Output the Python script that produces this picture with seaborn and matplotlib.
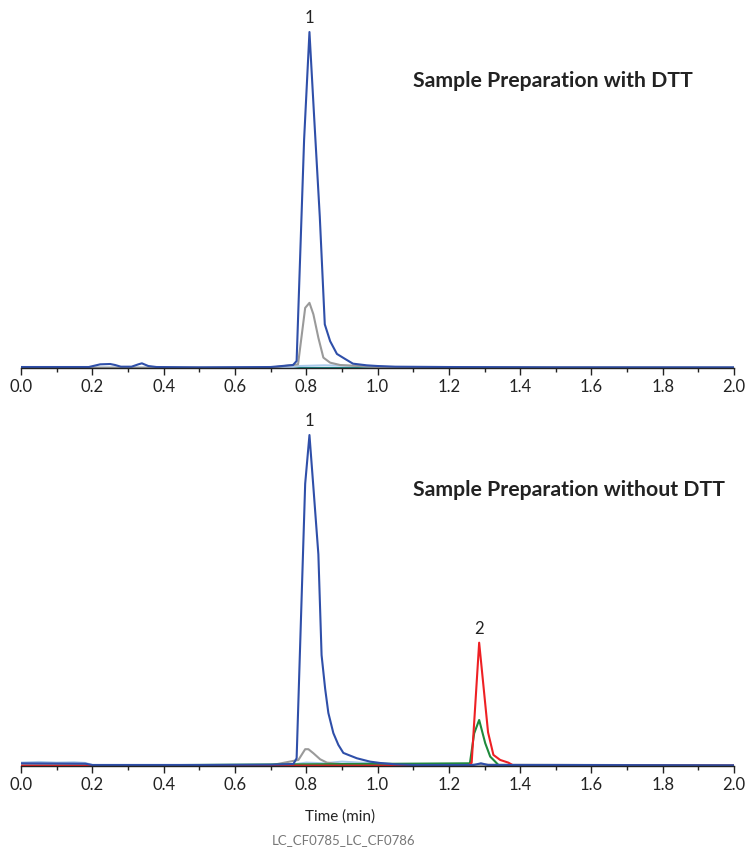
import pandas as pd
import matplotlib.pyplot as plt
import seaborn as sns
from matplotlib.ticker import MultipleLocator

# chromatogram traces (time in min, signal in % of peak 1 top panel)
top_blue_t = [0.0, 0.10, 0.19, 0.222, 0.25, 0.264, 0.28, 0.31, 0.329, 0.339, 0.357, 0.38, 0.5, 0.7,
              0.763, 0.773, 0.794, 0.809, 0.822, 0.838, 0.852, 0.867, 0.886, 0.909, 0.931, 0.970,
              1.0, 1.05, 1.2, 1.5, 2.0]
top_blue_v = [0.3, 0.3, 0.3, 1.1, 1.2, 0.9, 0.4, 0.4, 1.1, 1.4, 0.6, 0.3, 0.2, 0.3,
              0.9, 2.1, 68, 100, 75, 45, 13, 8, 4.2, 2.7, 1.3, 0.8,
              0.6, 0.4, 0.3, 0.2, 0.2]
top_gray_t = [0.0, 0.7, 0.777, 0.797, 0.809, 0.820, 0.834, 0.848, 0.867, 0.895, 1.0, 2.0]
top_gray_v = [0.1, 0.1, 1.1, 17.9, 19.4, 16.0, 9.0, 3.1, 1.6, 0.9, 0.3, 0.1]
top_lblue_t = [0.0, 0.75, 0.78, 0.85, 0.95, 1.05, 2.0]
top_lblue_v = [0.1, 0.1, 0.6, 0.8, 0.6, 0.2, 0.1]
top_teal_t = [0.0, 2.0]
top_teal_v = [0.0, 0.0]

bot_blue_t = [0.0, 0.18, 0.2, 0.5, 0.7, 0.764, 0.773, 0.797, 0.809, 0.820, 0.834, 0.843, 0.853,
              0.862, 0.876, 0.890, 0.904, 0.918, 0.942, 0.979, 1.007, 1.05, 1.1, 1.27, 1.29, 1.31,
              1.5, 2.0]
bot_blue_v = [0.8, 0.7, 0.3, 0.3, 0.4, 0.6, 2.3, 84, 98.5, 83, 63, 33, 23,
              15.8, 9.8, 6.3, 3.9, 3.3, 2.3, 1.3, 0.9, 0.5, 0.3, 0.3, 0.8, 0.3,
              0.3, 0.2]
bot_gray_t = [0.0, 0.7, 0.778, 0.797, 0.806, 0.820, 0.839, 0.858, 0.9, 2.0]
bot_gray_v = [0.2, 0.2, 1.8, 5.0, 5.0, 3.8, 2.0, 1.0, 0.5, 0.2]
bot_lblue_t = [0.0, 0.05, 0.1, 0.15, 0.18, 0.2, 0.75, 0.8, 0.85, 0.9, 0.95, 1.0, 1.1, 2.0]
bot_lblue_v = [1.0, 1.2, 1.0, 1.1, 0.9, 0.3, 0.3, 1.0, 0.8, 1.3, 1.0, 0.8, 0.3, 0.2]
bot_red_t = [0.0, 1.255, 1.264, 1.285, 1.310, 1.325, 1.344, 1.367, 1.38, 2.0]
bot_red_v = [0.1, 0.1, 1.0, 36.7, 10.0, 3.3, 1.8, 1.0, 0.2, 0.1]
bot_green_t = [0.0, 1.259, 1.271, 1.285, 1.302, 1.316, 1.330, 1.34, 2.0]
bot_green_v = [0.0, 0.8, 9.7, 13.7, 6.8, 2.8, 1.3, 0.2, 0.0]
bot_teal_t = [0.0, 2.0]
bot_teal_v = [0.0, 0.0]

x_ticks = [0.0, 0.2, 0.4, 0.6, 0.8, 1.0, 1.2, 1.4, 1.6, 1.8, 2.0]
titles = ["Sample Preparation with DTT", "Sample Preparation without DTT"]

colors = {"teal": "#1b8a86", "lblue": "#a9c9ea", "gray": "#9a9a9a",
          "green": "#1f8a3c", "red": "#ee2024", "blue": "#2f4fa9"}
order = ["teal", "lblue", "gray", "green", "red", "blue"]


def make_df(traces):
    frames = []
    for name, t, v in traces:
        frames.append(pd.DataFrame({"time": t, "signal": v, "trace": name}))
    return pd.concat(frames, ignore_index=True)


top_df = make_df([("teal", top_teal_t, top_teal_v), ("lblue", top_lblue_t, top_lblue_v),
                  ("gray", top_gray_t, top_gray_v), ("blue", top_blue_t, top_blue_v)])
bot_df = make_df([("teal", bot_teal_t, bot_teal_v), ("lblue", bot_lblue_t, bot_lblue_v),
                  ("gray", bot_gray_t, bot_gray_v), ("green", bot_green_t, bot_green_v),
                  ("red", bot_red_t, bot_red_v), ("blue", bot_blue_t, bot_blue_v)])

sns.set_style("white")
plt.rcParams["font.family"] = ["Lato", "DejaVu Sans"]

fig = plt.figure(figsize=(7.46, 8.48), dpi=100)
ax_top = fig.add_axes([0.0282, 0.5660, 0.9558, 0.421])
ax_bot = fig.add_axes([0.0282, 0.0967, 0.9558, 0.421])

for ax, df, title, ty in [(ax_top, top_df, titles[0], 0.804), (ax_bot, bot_df, titles[1], 0.773)]:
    hue_order = [h for h in order if h in df["trace"].unique()]
    sns.lineplot(data=df, x="time", y="signal", hue="trace", hue_order=hue_order,
                 palette=colors, estimator=None, sort=False, linewidth=1.5,
                 legend=False, ax=ax)
    ax.set_xlim(0, 2.0)
    ax.set_ylim(0, 106.25)
    ax.set_xticks(x_ticks)
    ax.set_xticklabels([f"{x:.1f}" for x in x_ticks])
    ax.xaxis.set_minor_locator(MultipleLocator(0.1))
    ax.tick_params(axis="x", which="major", direction="out", length=5, width=1,
                   color="#222222", labelsize=12, labelcolor="#222222", pad=3, bottom=True)
    ax.tick_params(axis="x", which="minor", direction="out", length=3, width=1,
                   color="#222222", bottom=True)
    ax.set_yticks([])
    ax.set_xlabel("")
    ax.set_ylabel("")
    for s in ["left", "right", "top"]:
        ax.spines[s].set_visible(False)
    ax.spines["bottom"].set_color("#222222")
    ax.spines["bottom"].set_linewidth(1)
    ax.text(0.55, ty, title, transform=ax.transAxes, fontsize=15.3, fontweight="bold",
            color="#222222", va="center", ha="left")

# peak labels
ax_top.annotate("1", xy=(top_blue_t[top_blue_v.index(max(top_blue_v))], max(top_blue_v)),
                xytext=(0, 4), textcoords="offset points", ha="center", va="bottom",
                fontsize=12, color="#222222")
ax_bot.annotate("1", xy=(bot_blue_t[bot_blue_v.index(max(bot_blue_v))], max(bot_blue_v)),
                xytext=(0, 4), textcoords="offset points", ha="center", va="bottom",
                fontsize=12, color="#222222")
ax_bot.annotate("2", xy=(bot_red_t[bot_red_v.index(max(bot_red_v))], max(bot_red_v)),
                xytext=(0, 4), textcoords="offset points", ha="center", va="bottom",
                fontsize=12, color="#222222")

ax_bot.set_xlabel("Time (min)", fontsize=11, color="#222222")
ax_bot.xaxis.set_label_coords(0.447, -0.122)
fig.text(0.46, 0.002, "LC_CF0785_LC_CF0786", fontsize=9.5, color="#777777", ha="center", va="bottom")

fig.savefig("out.png", dpi=100)
